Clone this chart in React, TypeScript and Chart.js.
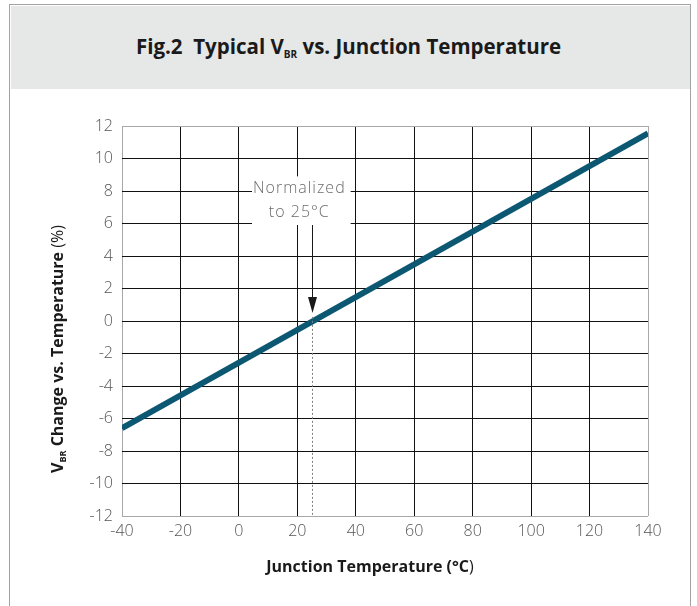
import React, { useEffect, useRef } from "react";
import { Chart, registerables } from "chart.js";

Chart.register(...registerables);

// ---- data ----
const temperatures = [-40, 140];
const vbrChange = [-6.6, 11.55];
const xTickValues = [-40, -20, 0, 20, 40, 60, 80, 100, 120, 140];
const yTickValues = [-12, -10, -8, -6, -4, -2, 0, 2, 4, 6, 8, 10, 12];
const noteLines = ["Normalized", "to 25°C"];
const noteAnchorX = 20;
const noteTopY = 8.9;
const noteBottomY = 6;
const normalizedTemp = 25;
const arrowTipY = 0.5;

const FONT = "'Open Sans', 'Noto Sans', sans-serif";
const GRID_DARK = "#111111";
const GRID_EDGE = "#a8a8a8";

const annotationPlugin = {
  id: "noteAndTitles",
  afterDatasetsDraw(chart: any) {
    const { ctx, scales } = chart;
    const xs = scales.x;
    const ys = scales.y;
    const area = chart.chartArea;
    ctx.save();
    // note box
    ctx.font = `300 16px ${FONT}`;
    (ctx as any).letterSpacing = "1px";
    const cx = xs.getPixelForValue(noteAnchorX) + 4;
    const w = Math.max(...noteLines.map((t) => ctx.measureText(t).width)) + 6;
    const top = ys.getPixelForValue(noteTopY);
    const bottom = ys.getPixelForValue(noteBottomY) + 1.5;
    ctx.fillStyle = "#ffffff";
    ctx.fillRect(cx - w / 2, top, w, bottom - top);
    ctx.fillStyle = "#6b6b6b";
    ctx.textAlign = "center";
    ctx.textBaseline = "middle";
    const lh = (bottom - top) / noteLines.length;
    noteLines.forEach((t, i) => ctx.fillText(t, cx - 2, top + lh * (i + 0.5)));
    (ctx as any).letterSpacing = "0px";

    // arrow
    const ax = Math.round(xs.getPixelForValue(normalizedTemp)) + 0.5;
    const tip = ys.getPixelForValue(arrowTipY);
    ctx.strokeStyle = "#1a1a1a";
    ctx.lineWidth = 1;
    ctx.beginPath();
    ctx.moveTo(ax, bottom);
    ctx.lineTo(ax, tip - 14);
    ctx.stroke();
    ctx.fillStyle = "#1a1a1a";
    ctx.beginPath();
    ctx.moveTo(ax - 4.5, tip - 16);
    ctx.lineTo(ax + 4.5, tip - 16);
    ctx.lineTo(ax, tip);
    ctx.closePath();
    ctx.fill();
    // dotted
    ctx.strokeStyle = "#808080";
    ctx.setLineDash([2, 2]);
    ctx.beginPath();
    ctx.moveTo(ax, tip + 4);
    ctx.lineTo(ax, area.bottom);
    ctx.stroke();
    ctx.setLineDash([]);

    const drawSegs = (segs: any[], x: number, y: number, rot: number) => {
      ctx.save();
      ctx.translate(x, y);
      ctx.rotate(rot);
      let total = 0;
      segs.forEach((s) => {
        ctx.font = s.f;
        total += ctx.measureText(s.t).width;
      });
      let px = -total / 2;
      ctx.fillStyle = "#1a1a1a";
      ctx.textAlign = "left";
      ctx.textBaseline = "middle";
      segs.forEach((s) => {
        ctx.font = s.f;
        ctx.fillText(s.t, px, s.dy);
        px += ctx.measureText(s.t).width;
      });
      ctx.restore();
    };
    // y axis title
    const segsY = [
      { t: "V", f: `700 16px ${FONT}`, dy: 0 },
      { t: "BR", f: `700 9px ${FONT}`, dy: 5 },
      { t: " Change vs. Temperature ", f: `700 16px ${FONT}`, dy: 0 },
      { t: "(%)", f: `400 16px ${FONT}`, dy: 0 },
    ];
    drawSegs(segsY, 58, 349, -Math.PI / 2);
    const segsX = [
      { t: "Junction Temperature (°C", f: `700 16px ${FONT}`, dy: 0 },
      { t: ")", f: `400 16px ${FONT}`, dy: 0 },
    ];
    drawSegs(segsX, 370, 567, 0);
    ctx.restore();
  },
};

export default function App() {
  const canvasRef = useRef<HTMLCanvasElement | null>(null);

  useEffect(() => {
    document.body.style.margin = "0";
    const canvas = canvasRef.current;
    if (!canvas) return;
    const edgeColor = (min: number, max: number) => (c: any) =>
      c.tick && (c.tick.value === min || c.tick.value === max) ? GRID_EDGE : GRID_DARK;
    const chart = new Chart(canvas, {
      type: "scatter",
      data: {
        datasets: [
          {
            data: temperatures.map((t, i) => ({ x: t, y: vbrChange[i] })),
            showLine: true,
            borderColor: "#0c5872",
            borderWidth: 6,
            pointRadius: 0,
            borderCapStyle: "butt",
          },
        ],
      },
      options: {
        animation: false,
        responsive: true,
        maintainAspectRatio: false,
        devicePixelRatio: 1,
        layout: { padding: { top: 126, right: 49, left: 0, bottom: 0 } },
        plugins: { legend: { display: false }, tooltip: { enabled: false }, title: { display: false } },
        scales: {
          x: {
            type: "linear",
            min: -40,
            max: 140,
            afterBuildTicks: (s: any) => {
              s.ticks = xTickValues.map((v) => ({ value: v }));
            },
            afterFit: (s: any) => {
              s.height = 90;
            },
            border: { display: false },
            grid: { color: edgeColor(-40, 140), lineWidth: 1, drawTicks: false },
            ticks: {
              padding: 6,
              color: "#555555",
              font: { family: FONT, size: 16, weight: 300 as any },
              maxRotation: 0,
              autoSkip: false,
            },
          },
          y: {
            type: "linear",
            min: -12,
            max: 12,
            afterBuildTicks: (s: any) => {
              s.ticks = yTickValues.map((v) => ({ value: v }));
            },
            afterFit: (s: any) => {
              s.width = 122;
            },
            border: { display: false },
            grid: { color: edgeColor(-12, 12), lineWidth: 1, drawTicks: false },
            ticks: {
              padding: 9,
              color: "#555555",
              font: { family: FONT, size: 16, weight: 300 as any },
              autoSkip: false,
            },
          },
        },
      },
      plugins: [annotationPlugin],
    } as any);
    return () => chart.destroy();
  }, []);

  return (
    <div style={{ position: "absolute", left: 0, top: 0, width: 697, height: 606, overflow: "hidden", background: "#fff" }}>
      <div
        style={{
          position: "absolute",
          left: 9,
          top: 4,
          width: 680,
          height: 620,
          borderLeft: "1.5px solid #a3a3a3",
          borderTop: "1.5px solid #a3a3a3",
          borderRight: "1.5px solid #a3a3a3",
        }}
      />
      <div style={{ position: "absolute", left: 10.5, top: 5.5, width: 679, height: 83, background: "#e6e7e7" }} />
      <div
        style={{
          position: "absolute",
          left: 0,
          top: 32,
          width: 697,
          textAlign: "center",
          fontFamily: FONT,
          fontWeight: 700,
          fontSize: 20.5,
          lineHeight: "28px",
          color: "#1a1a1a",
        }}
      >
        Fig.2&nbsp;&nbsp;Typical V<sub style={{ fontSize: 10, verticalAlign: "-4px" }}>BR</sub> vs. Junction Temperature
      </div>
      <div style={{ position: "absolute", left: 0, top: 0, width: 697, height: 606 }}>
        <canvas ref={canvasRef} />
      </div>
    </div>
  );
}
